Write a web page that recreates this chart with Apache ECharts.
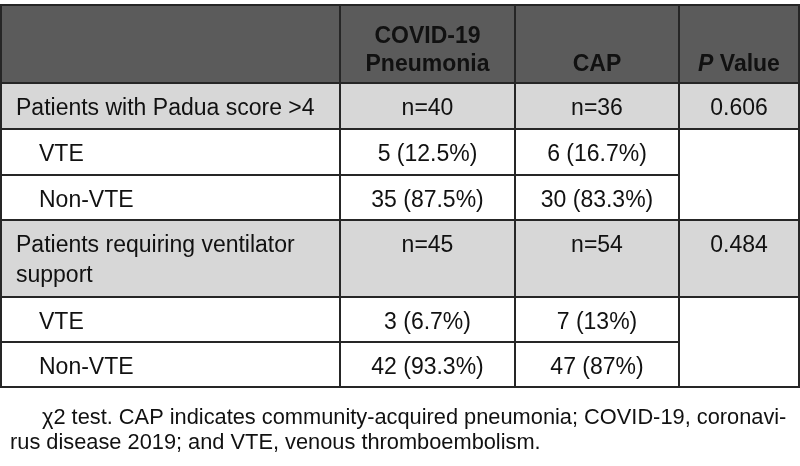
<!DOCTYPE html>
<html>
<head>
<meta charset="utf-8">
<script src="https://cdn.jsdelivr.net/npm/echarts@6/dist/echarts.min.js"></script>
<style>
html,body{margin:0;padding:0;background:#fff;}
#main{width:800px;height:466px;}
</style>
</head>
<body>
<div id="main"></div>
<script>
// ---- data ----
const headerLabels = ['', 'COVID-19\nPneumonia', 'CAP', '{i|P} Value'];
const rowLabels = ['Patients with Padua score >4', 'VTE', 'Non-VTE', 'Patients requiring ventilator\nsupport', 'VTE', 'Non-VTE'];
const rowKinds = ['group', 'sub', 'sub', 'group', 'sub', 'sub'];
const covidValues = ['n=40', '5 (12.5%)', '35 (87.5%)', 'n=45', '3 (6.7%)', '42 (93.3%)'];
const capValues = ['n=36', '6 (16.7%)', '30 (83.3%)', 'n=54', '7 (13%)', '47 (87%)'];
const pValues = ['0.606', '', '', '0.484', '', ''];
const footnoteLines = [
  'χ2 test. CAP indicates community-acquired pneumonia; COVID-19, coronavi-',
  'rus disease 2019; and VTE, venous thromboembolism.'
];

// ---- layout (grid units == pixels) ----
const colEdges = [1, 340, 515, 679, 799];
const rowEdges = [5, 83, 129, 175, 220, 297, 342, 387];
const FONT = '"Liberation Sans", Arial, Helvetica, sans-serif';
const FILL = { header: '#5b5b5b', group: '#d7d7d7', sub: '#ffffff' };

// build cells: [col, rowStart, rowSpan]
const cells = [];
headerLabels.forEach((t, c) => cells.push({ c, r: 0, span: 1, text: t, kind: 'header' }));
rowLabels.forEach((t, i) => {
  const r = i + 1, kind = rowKinds[i];
  cells.push({ c: 0, r, span: 1, text: t, kind });
  cells.push({ c: 1, r, span: 1, text: covidValues[i], kind });
  cells.push({ c: 2, r, span: 1, text: capValues[i], kind });
  if (kind === 'group') {
    cells.push({ c: 3, r, span: 1, text: pValues[i], kind });
    cells.push({ c: 3, r: r + 1, span: 2, text: '', kind: 'sub' });
  }
});

const chart = echarts.init(document.getElementById('main'), null, { renderer: 'canvas' });

function renderItem(params, api) {
  const cell = cells[params.dataIndex];
  const p0 = api.coord([colEdges[cell.c], rowEdges[cell.r]]);
  const p1 = api.coord([colEdges[cell.c + 1], rowEdges[cell.r + cell.span]]);
  const x0 = p0[0], y0 = p0[1], x1 = p1[0], y1 = p1[1];
  const children = [{
    type: 'rect',
    shape: { x: x0, y: y0, width: x1 - x0, height: y1 - y0 },
    style: { fill: FILL[cell.kind], stroke: '#262626', lineWidth: 2 }
  }];
  if (cell.text) {
    const isHeader = cell.kind === 'header';
    let tx, align;
    if (cell.c === 0) {
      tx = x0 + (cell.kind === 'sub' ? 38 : 15);
      align = 'left';
    } else {
      tx = (x0 + x1) / 2;
      align = 'center';
    }
    const style = {
      text: cell.text,
      x: tx,
      y: isHeader ? y1 - 4 : y0 + 11,
      align,
      verticalAlign: isHeader ? 'bottom' : 'top',
      font: (isHeader ? 'bold ' : '') + '23px ' + FONT,
      lineHeight: isHeader ? 28 : 30,
      fill: '#111'
    };
    if (isHeader) {
      style.rich = {
        i: { font: 'italic bold 23px ' + FONT, fill: '#111', lineHeight: 28 }
      };
    }
    children.push({ type: 'text', style });
  }
  return { type: 'group', children };
}

chart.setOption({
  animation: false,
  backgroundColor: '#fff',
  grid: { left: 0, right: 0, top: 0, bottom: 0, containLabel: false },
  xAxis: { type: 'value', min: 0, max: 800, show: false },
  yAxis: { type: 'value', min: 0, max: 466, inverse: true, show: false },
  series: [{
    type: 'custom',
    renderItem,
    data: cells.map(c => [c.c, c.r]),
    silent: true
  }],
  graphic: [
    { type: 'text', left: 42, top: 407, style: { text: footnoteLines[0], font: '21.8px ' + FONT, fill: '#111' } },
    { type: 'text', left: 10, top: 432, style: { text: footnoteLines[1], font: '21.8px ' + FONT, fill: '#111' } }
  ]
});
</script>
</body>
</html>
